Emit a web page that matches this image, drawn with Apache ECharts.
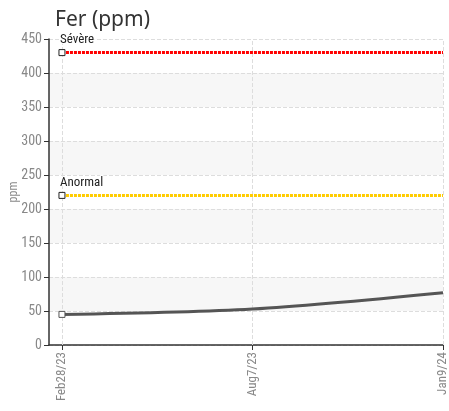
<!DOCTYPE html>
<html><head><meta charset="utf-8">
<script src="https://cdn.jsdelivr.net/npm/echarts@6/dist/echarts.min.js"></script>
<style>html,body{margin:0;padding:0;background:#fff}#c{width:449px;height:411px}</style>
</head><body><div id="c"></div>
<script>
const categories = ['Feb28/23', 'Aug7/23', 'Jan9/24'];
const ferValues = [45, 53, 77];
const severeValues = [430, 430, 430];
const anormalValues = [220, 220, 220];
const yTicks = [0, 50, 100, 150, 200, 250, 300, 350, 400, 450];

const narrow = '"Liberation Sans Narrow", "Roboto Condensed", "Liberation Sans", sans-serif';
const catIdx = categories.map((c, i) => i);
function firstMarker(arr) {
  return arr.map((v, i) => i === 0 ? { value: [i, v], symbol: 'rect', symbolSize: 6 } : { value: [i, v], symbol: 'none' });
}
const chart = echarts.init(document.getElementById('c'), null, { renderer: 'canvas' });
chart.setOption({
  animation: false,
  title: { text: 'Fer (ppm)', left: 50, top: 5, textStyle: { fontSize: 21, fontWeight: 'normal', color: '#333', fontFamily: '"Noto Sans", "DejaVu Sans", sans-serif' } },
  grid: { left: 49, right: 6, top: 39, bottom: 66, containLabel: false, outerBoundsMode: 'none' },
  xAxis: {
    type: 'value', min: -0.068, max: categories.length - 1,
    axisLine: { show: true, onZero: false, lineStyle: { color: '#333', width: 1.5 } },
    axisTick: { show: true, length: 5, lineStyle: { color: '#333' }, customValues: catIdx },
    axisLabel: { rotate: 90, color: '#888', fontSize: 13, fontFamily: narrow, margin: 7, customValues: catIdx,
      formatter: v => categories[Math.round(v)] },
    splitLine: { show: false }
  },
  yAxis: {
    type: 'value', min: yTicks[0], max: yTicks[yTicks.length - 1], interval: 50,
    name: 'ppm', nameLocation: 'middle', nameGap: 29, nameRotate: 90, nameMoveOverlap: false,
    nameTextStyle: { color: '#888', fontSize: 12, fontFamily: narrow },
    axisLine: { show: true, onZero: false, lineStyle: { color: '#333', width: 1.5 } },
    axisTick: { show: true, length: 5, lineStyle: { color: '#333' } },
    axisLabel: { color: '#888', fontSize: 14, fontFamily: narrow, margin: 7 },
    splitLine: { show: true, lineStyle: { type: 'dashed', color: '#ddd' } },
    splitArea: { show: true, areaStyle: { color: ['#ffffff', '#f7f7f7'] } }
  },
  series: [
    {
      type: 'line', data: firstMarker(severeValues), z: 3,
      lineStyle: { color: '#ff0000', width: 3, type: [3, 1] },
      itemStyle: { color: '#fff', borderColor: '#222', borderWidth: 1 },
      label: { show: true, formatter: p => p.dataIndex === 0 ? 'Sévère' : '', position: 'top', align: 'left', offset: [-2, 2], color: '#222', fontSize: 13, fontFamily: narrow, textBorderColor: '#fff', textBorderWidth: 2 },
      markLine: {
        silent: true, symbol: 'none', label: { show: false }, z: 1,
        lineStyle: { type: 'dashed', color: '#ddd', width: 1 },
        data: catIdx.map(i => ({ xAxis: i }))
      }
    },
    {
      type: 'line', data: firstMarker(anormalValues), z: 3,
      lineStyle: { color: '#ffcc00', width: 3, type: [3, 1] },
      itemStyle: { color: '#fff', borderColor: '#222', borderWidth: 1 },
      label: { show: true, formatter: p => p.dataIndex === 0 ? 'Anormal' : '', position: 'top', align: 'left', offset: [-2, 2], color: '#222', fontSize: 13, fontFamily: narrow, textBorderColor: '#fff', textBorderWidth: 2 }
    },
    {
      type: 'line', data: firstMarker(ferValues), smooth: 0.3, z: 4,
      lineStyle: { color: '#555', width: 3 },
      itemStyle: { color: '#fff', borderColor: '#555', borderWidth: 1 }
    }
  ]
});
</script></body></html>
